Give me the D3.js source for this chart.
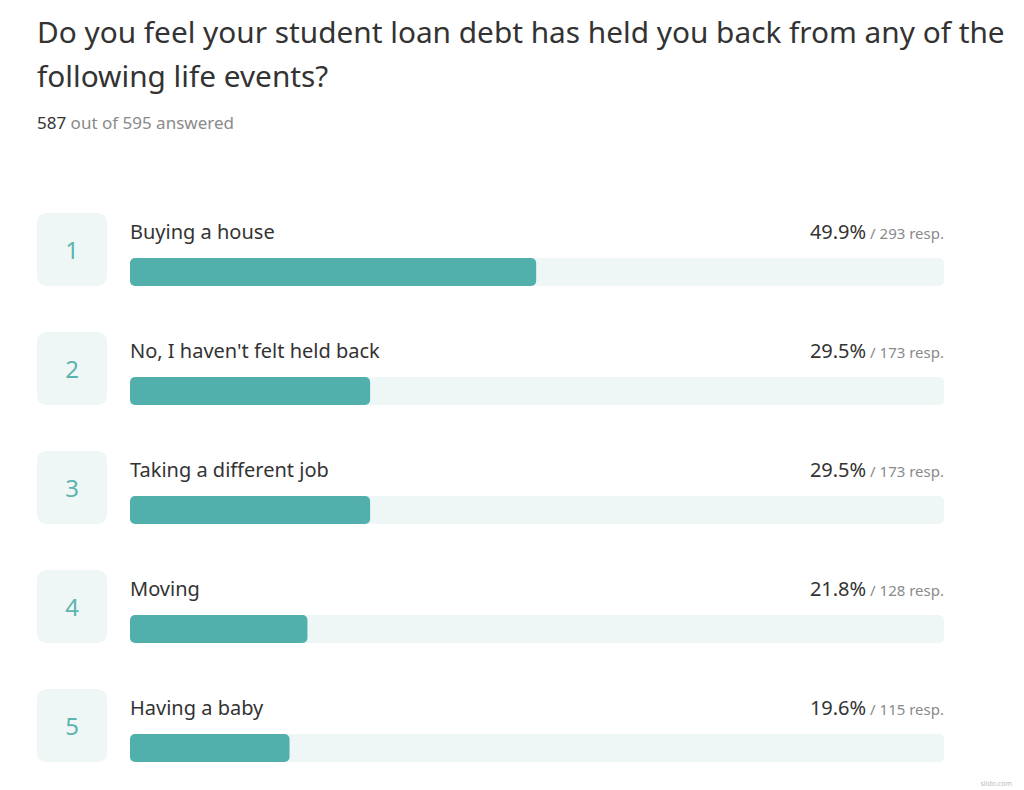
<!DOCTYPE html>
<html>
<head>
<meta charset="utf-8">
<style>
  body { margin: 0; background: #fff; }
  text { font-family: "Noto Sans", "Open Sans", sans-serif; }
</style>
</head>
<body>
<svg width="1024" height="790"></svg>
<script src="https://d3js.org/d3.v7.min.js"></script>
<script>
var titleLines = ["Do you feel your student loan debt has held you back from any of the", "following life events?"];
var answered = 587, total = 595;
var options = ["Buying a house", "No, I haven't felt held back", "Taking a different job", "Moving", "Having a baby"];
var percents = [49.9, 29.5, 29.5, 21.8, 19.6];
var responses = [293, 173, 173, 128, 115];

var svg = d3.select("svg");
var teal = "#52b0ac", pale = "#eff7f6", dark = "#333", grey = "#8a8a8a";

// title, fitted to the width it takes in the original
var title = svg.append("g");
titleLines.forEach(function(t, i) {
  title.append("text").attr("x", 37).attr("y", 43 + i * 44)
    .attr("font-size", 30).attr("fill", dark).text(t);
});
var w0 = title.select("text").node().getComputedTextLength();
title.selectAll("text").attr("font-size", 30 * 968 / w0);

var sub = svg.append("text").attr("x", 37).attr("y", 129).attr("font-size", 17).attr("fill", grey);
sub.append("tspan").attr("fill", dark).text(answered);
sub.append("tspan").text(" out of " + total + " answered");

var y = d3.scaleBand().domain(d3.range(options.length)).range([213, 213 + 119 * options.length]).paddingInner(0);
var x = d3.scaleLinear().domain([0, 100]).range([130, 944]);

var rows = svg.selectAll("g.row").data(options).join("g").attr("class", "row")
  .attr("transform", function(d, i) { return "translate(0," + y(i) + ")"; });

rows.append("rect").attr("x", 37).attr("y", 0).attr("width", 70).attr("height", 73)
  .attr("rx", 9).attr("fill", pale);
rows.append("text").attr("x", 72).attr("y", 46).attr("text-anchor", "middle")
  .attr("font-size", 24).attr("fill", "#5cb4af").text(function(d, i) { return i + 1; });

rows.append("text").attr("x", 130).attr("y", 26).attr("font-size", 20).attr("fill", dark)
  .text(function(d) { return d; });

rows.append("rect").attr("x", x(0)).attr("y", 45).attr("width", x(100) - x(0)).attr("height", 28)
  .attr("rx", 5).attr("fill", pale);
rows.append("rect").attr("x", x(0)).attr("y", 45)
  .attr("width", function(d, i) { return x(percents[i]) - x(0); })
  .attr("height", 28).attr("rx", 5).attr("fill", teal);

var val = rows.append("text").attr("x", 944).attr("y", 26).attr("text-anchor", "end");
val.append("tspan").attr("font-size", 20).attr("fill", dark).text(function(d, i) { return percents[i].toFixed(1) + "%"; });
val.append("tspan").attr("font-size", 15).attr("fill", grey).text(function(d, i) { return " / " + responses[i] + " resp."; });

svg.append("text").attr("x", 1012).attr("y", 786).attr("text-anchor", "end")
  .attr("font-size", 7).attr("fill", "#bbb").text("slido.com");
</script>
</body>
</html>
